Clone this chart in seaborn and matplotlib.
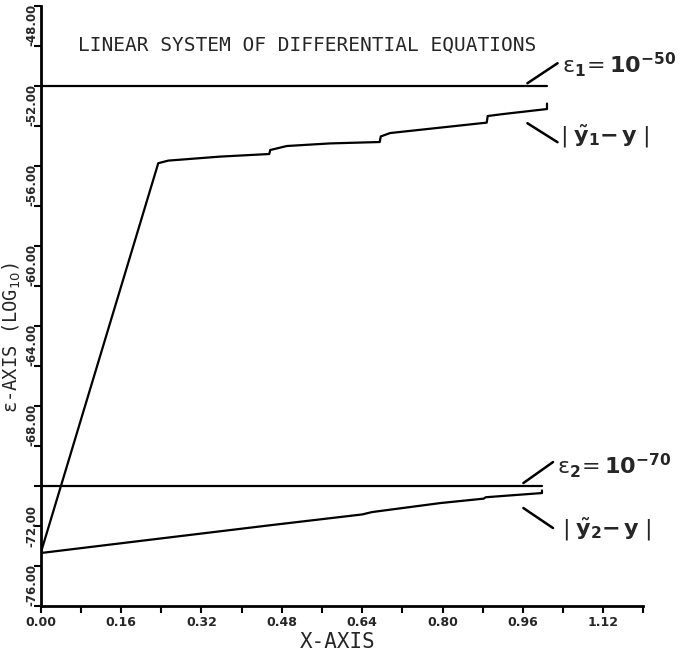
# Linear system of differential equations - error plot (log10)
import numpy as np
import pandas as pd
import matplotlib
matplotlib.use('Agg')
import matplotlib.pyplot as plt
import seaborn as sns

# --------------
# Data
# --------------
eps1_x = [0.0, 1.008]
eps1_y = [-50.0, -50.0]

eps2_x = [0.0, 0.998]
eps2_y = [-70.0, -70.0]

err1_x = [0.0, 0.234, 0.254, 0.357, 0.455, 0.457, 0.49, 0.576, 0.675, 0.677,
          0.696, 0.888, 0.89, 0.921, 1.008, 1.008]
err1_y = [-73.35, -53.85, -53.72, -53.52, -53.39, -53.19, -52.99, -52.86, -52.79, -52.51,
          -52.34, -51.82, -51.49, -51.39, -51.14, -50.87]

err2_x = [0.0, 0.2, 0.457, 0.64, 0.66, 0.796, 0.882, 0.886, 0.998, 0.998]
err2_y = [-73.35, -72.74, -71.96, -71.42, -71.30, -70.85, -70.63, -70.56, -70.35, -70.22]

x_ticks = np.round(np.arange(0.0, 1.21, 0.08), 2)
x_labels = ['%.2f' % v if int(round(v * 100)) % 16 == 0 and v < 1.2 else '' for v in x_ticks]
y_ticks = np.arange(-76, -45, 2)
y_labels = ['%.2f' % v if v % 4 == 0 and v < -46 else '' for v in y_ticks]

# --------------
# Plot
# --------------
sns.set_style('ticks')
plt.rcParams['font.family'] = ['DejaVu Sans', 'DejaVu Sans Mono']
plt.rcParams['mathtext.fontset'] = 'dejavusans'

fig = plt.figure(figsize=(6.88, 6.54), dpi=100)
ax = fig.add_axes([0.0592, 0.0734, 0.876, 0.917])

for xs, ys in [(eps1_x, eps1_y), (eps2_x, eps2_y), (err1_x, err1_y), (err2_x, err2_y)]:
    df = pd.DataFrame({'x': xs, 'y': ys})
    sns.lineplot(data=df, x='x', y='y', estimator=None, sort=False,
                 color='black', linewidth=1.6, ax=ax)

ax.set_xlim(0.0, 1.2)
ax.set_ylim(-76, -46)
ax.set_xticks(x_ticks)
ax.set_xticklabels(x_labels, fontsize=9, fontweight='bold')
ax.set_yticks(y_ticks)
ax.set_yticklabels(y_labels, fontsize=8.5, fontweight='bold', rotation=90, va='bottom')
for t, v in zip(ax.get_yticklabels(), y_ticks):
    if v == -72:
        t.set_va('center')
ax.tick_params(axis='both', direction='out', length=5, width=1.5, color='black', pad=2)
ax.tick_params(axis='y', pad=-3)

sns.despine(ax=ax)
for s in ['left', 'bottom']:
    ax.spines[s].set_linewidth(2.0)
    ax.spines[s].set_color('black')

ax.set_xlabel('X-AXIS', fontsize=15, family='DejaVu Sans Mono')
ax.xaxis.set_label_coords(0.493, -0.043)
ax.set_ylabel('ε-AXIS (LOG$_{10}$)', fontsize=13.5, family='DejaVu Sans Mono')
ax.yaxis.set_label_coords(-0.029, 0.448)

ax.text(0.062, 0.935, 'LINEAR SYSTEM OF DIFFERENTIAL EQUATIONS', transform=ax.transAxes,
        fontsize=14, family='DejaVu Sans Mono', ha='left', va='center')

# --------------
# Curve labels with leader lines
# --------------
lead = dict(arrowstyle='-', lw=1.8, color='black', shrinkA=0, shrinkB=0)
ax.annotate('', xy=(0.969, -49.85), xytext=(1.029, -48.85), arrowprops=lead)
ax.annotate('', xy=(0.969, -51.85), xytext=(1.029, -52.8), arrowprops=lead)
ax.annotate('', xy=(0.961, -69.85), xytext=(1.020, -68.8), arrowprops=lead)
ax.annotate('', xy=(0.961, -71.1), xytext=(1.020, -72.1), arrowprops=lead)

ax.text(1.038, -49.3, r'ɛ$_{\mathbf{1}}\!=\mathbf{10}^{\mathbf{-50}}$',
        fontsize=16, ha='left', va='baseline', clip_on=False)
ax.text(1.034, -52.8, r'$|\;\tilde{\mathbf{y}}_{\mathbf{1}}\mathbf{-\,y}\;|$',
        fontsize=16, ha='left', va='baseline', clip_on=False)
ax.text(1.028, -69.4, r'ɛ$_{\mathbf{2}}\!=\mathbf{10}^{\mathbf{-70}}$',
        fontsize=16, ha='left', va='baseline', clip_on=False)
ax.text(1.038, -72.45, r'$|\;\tilde{\mathbf{y}}_{\mathbf{2}}\mathbf{-\,y}\;|$',
        fontsize=16, ha='left', va='baseline', clip_on=False)

plt.savefig('out.png', dpi=100)
plt.close()
print('// complete ....... figure: out.png')
